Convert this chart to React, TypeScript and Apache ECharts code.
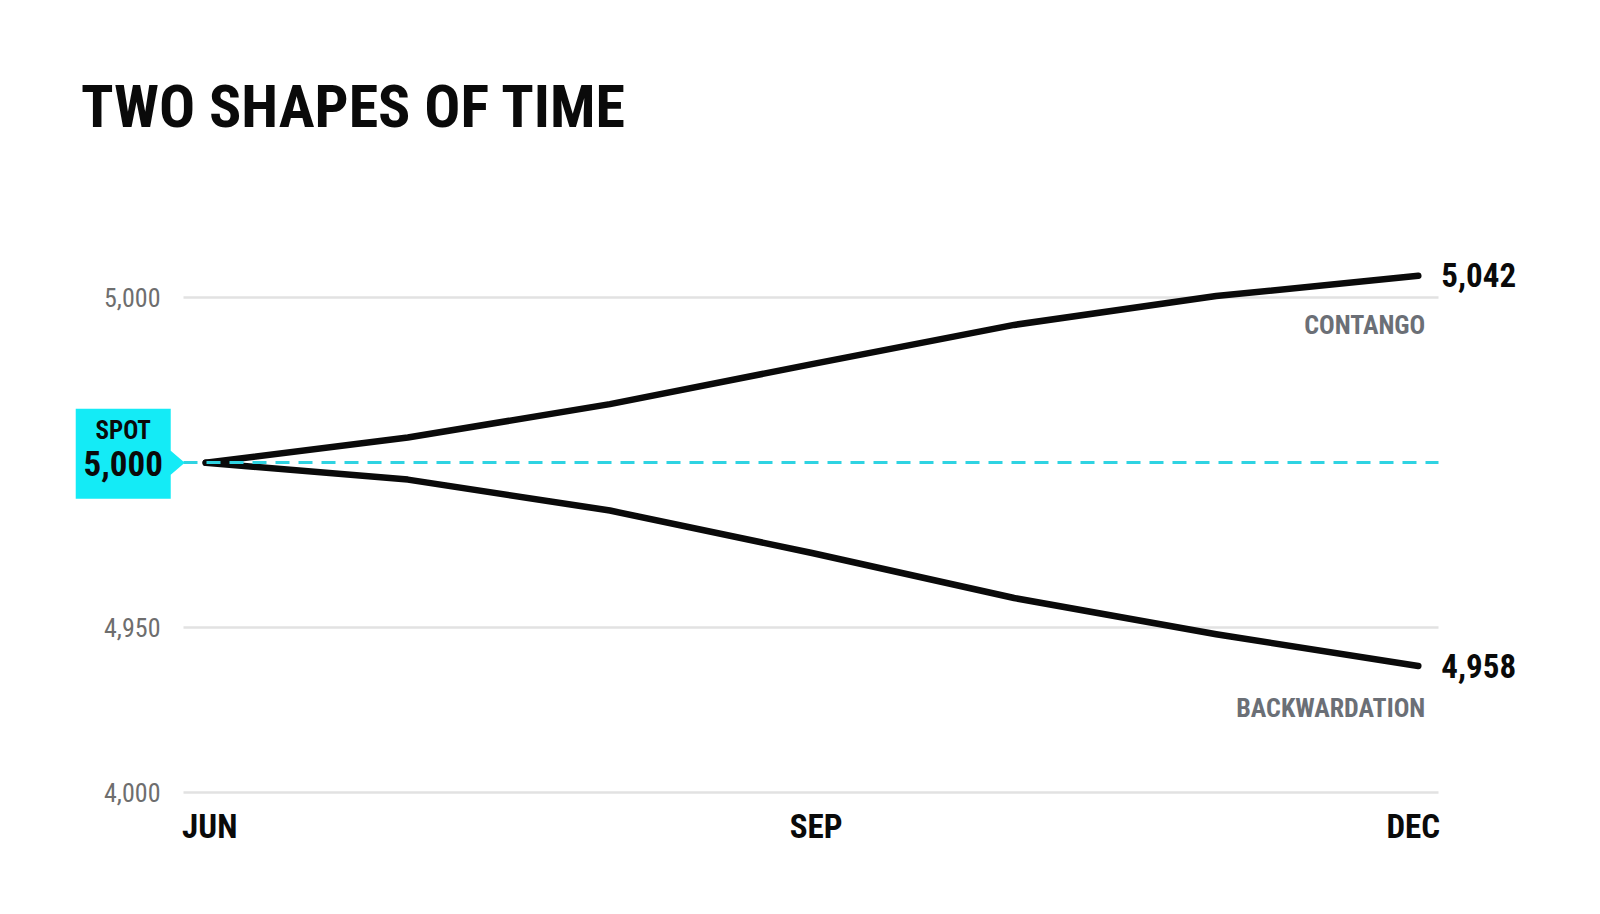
import { useEffect, useRef } from 'react';
import * as echarts from 'echarts';
import type { EChartsOption } from 'echarts';

const MONTHS = ['JUN', 'JUL', 'AUG', 'SEP', 'OCT', 'NOV', 'DEC'];
const LABELED_MONTHS = ['JUN', 'SEP', 'DEC'];
const CONTANGO = [5000, 5006.1, 5014.2, 5023.9, 5033.4, 5040.4, 5045.3];
const BACKWARDATION = [5000, 4995.9, 4988.4, 4978.1, 4967.2, 4958.4, 4950.7];
const SPOT = 5000;
const SPOT_LABEL = '5,000';
const Y_TICKS = [4920, 4960, 5000, 5040, 5080];
const Y_TICK_LABELS = ['4,000', '4,950', '', '5,000', ''];
const END_LABELS = ['5,042', '4,958'];
const SERIES_NAMES = ['CONTANGO', 'BACKWARDATION'];

const FONT = "'Roboto Condensed', 'Liberation Sans Narrow', 'DejaVu Sans Condensed', Roboto, sans-serif";
const CYAN = '#14ebf6';
const DASH = '#2fd3e2';
const GRAY = '#6b6f76';
const INK = '#0a0a0a';

// 月份标签的微调（左右对齐到网格边缘）
const MONTH_PAD: Record<string, number[]> = {
  JUN: [0, 0, 0, 8],
  SEP: [0, 0, 0, 8],
  DEC: [0, 10, 0, 0]
};

const App = () => {
  const chartRef = useRef<HTMLDivElement>(null);

  useEffect(() => {
    if (!chartRef.current) return;
    const chart = echarts.init(chartRef.current, undefined, { renderer: 'svg' });

    const monthFont = { fontFamily: FONT, fontSize: 33, fontWeight: 'bold', color: INK };
    const monthRich: Record<string, any> = {};
    LABELED_MONTHS.forEach(m => {
      monthRich[m] = { ...monthFont, padding: MONTH_PAD[m] };
    });

    // 右端的系列名称
    const nameMark = (i: number, values: number[], dy: number) => ({
      symbol: 'circle',
      symbolSize: 1,
      itemStyle: { color: 'rgba(0,0,0,0)' },
      silent: true,
      data: [{ coord: [values.length - 1, values[values.length - 1]] }],
      label: {
        show: true,
        position: 'inside',
        align: 'right',
        offset: [7, dy],
        formatter: SERIES_NAMES[i],
        fontFamily: FONT,
        fontSize: 26,
        fontWeight: 'bold',
        color: GRAY
      }
    });

    const lineSeries = (i: number, values: number[], dy: number) => ({
      name: SERIES_NAMES[i],
      type: 'line',
      data: values.map((v, k) => [k, v]),
      symbol: 'none',
      z: 3,
      lineStyle: { color: INK, width: 6.5, cap: 'round', join: 'round' },
      endLabel: {
        show: true,
        formatter: END_LABELS[i],
        distance: 23,
        fontFamily: FONT,
        fontSize: 33,
        fontWeight: 'bold',
        color: INK
      },
      markPoint: nameMark(i, values, dy)
    });

    const option: EChartsOption = {
      animation: false,
      backgroundColor: '#fff',
      title: {
        text: 'TWO SHAPES OF TIME',
        left: 76,
        top: 71,
        textStyle: { fontFamily: FONT, fontSize: 60, fontWeight: 'bold', color: INK }
      },
      grid: { left: 183.5, right: 161.5, top: 132.7, bottom: 121.3 },
      xAxis: {
        type: 'value',
        min: -0.11,
        max: 6.1,
        axisLine: { show: false },
        axisTick: { show: false },
        splitLine: { show: false },
        axisLabel: {
          margin: 17,
          ...monthFont,
          rich: monthRich,
          formatter: (v: number) => {
            const m = MONTHS[v];
            return Number.isInteger(v) && LABELED_MONTHS.includes(m) ? `{${m}|${m}}` : '';
          }
        }
      },
      yAxis: {
        type: 'value',
        min: Y_TICKS[0],
        max: Y_TICKS[Y_TICKS.length - 1],
        interval: 40,
        axisLine: { show: false },
        axisTick: { show: false },
        splitLine: {
          lineStyle: {
            width: 2.5,
            color: Y_TICK_LABELS.map(l => (l ? '#e2e2e2' : 'rgba(0,0,0,0)'))
          }
        },
        axisLabel: {
          margin: 23,
          fontFamily: FONT,
          fontSize: 26,
          color: '#6e6e6e',
          formatter: (v: number) => {
            const i = Y_TICKS.indexOf(v);
            return i >= 0 ? Y_TICK_LABELS[i] : '';
          }
        }
      },
      series: [
        {
          name: 'SPOT',
          type: 'line',
          data: [[0, SPOT]],
          symbol: 'none',
          z: 1,
          lineStyle: { opacity: 0 },
          markLine: {
            silent: true,
            symbol: 'none',
            label: { show: false },
            lineStyle: { color: DASH, width: 3, type: [14, 9] },
            data: [{ yAxis: SPOT }]
          },
          markPoint: {
            silent: true,
            symbol: 'path://M0 0 H95 V42 L109 54 L95 66 V90 H0 Z',
            symbolSize: [109, 90],
            symbolOffset: [-75.5, -9],
            itemStyle: { color: CYAN },
            data: [{ coord: [0, SPOT] }],
            label: {
              show: true,
              position: 'inside',
              offset: [-7, -4],
              formatter: `{a|SPOT}\n{b|${SPOT_LABEL}}`,
              rich: {
                a: { fontFamily: FONT, fontSize: 25, fontWeight: 'bold', color: INK, lineHeight: 30, align: 'center' },
                b: { fontFamily: FONT, fontSize: 35, fontWeight: 'bold', color: INK, lineHeight: 38, align: 'center' }
              }
            }
          }
        },
        lineSeries(0, CONTANGO, 49),
        lineSeries(1, BACKWARDATION, 42)
      ] as any
    };

    chart.setOption(option);
    return () => chart.dispose();
  }, []);

  return (
    <div
      ref={chartRef}
      style={{ position: 'fixed', left: 0, top: 0, width: '100vw', height: '100vh', background: '#fff' }}
    />
  );
};

export default App;
